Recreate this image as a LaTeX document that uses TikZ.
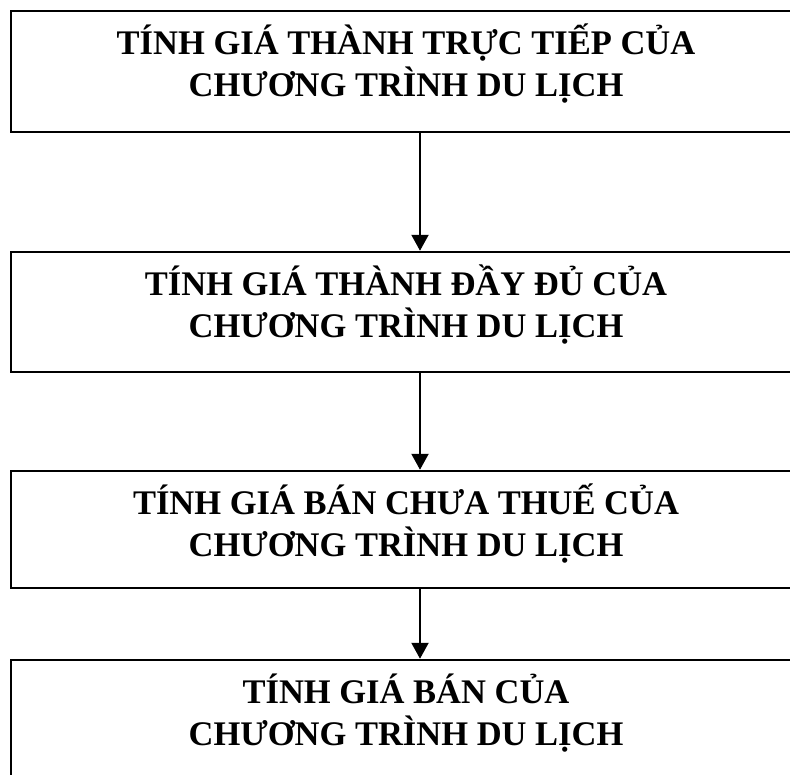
\documentclass[tikz,border=0pt]{standalone}
\usepackage{fontspec}
\setmainfont{Liberation Serif}
\usetikzlibrary{arrows.meta,positioning}

\begin{document}
\begin{tikzpicture}[x=1pt, y=-1pt,
    box/.style={rectangle, draw, line width=2.5pt, minimum width=818pt},
    label/.style={align=center, anchor=base, font=\fontsize{34.5}{42}\selectfont\bfseries},
    flow/.style={line width=2.2pt, -{Triangle[length=16pt, width=17pt]}}]
  \useasboundingbox (0, 0) rectangle (790, 774);
  \clip (0, 0) rectangle (790, 774);
  % Nodes
  \node (direct) [box, minimum height=121pt] at (420, 71.5) {};
  \node (full) [box, minimum height=120pt] at (420, 312) {};
  \node (pretax) [box, minimum height=117pt] at (420, 529.5) {};
  \node (price) [box, minimum height=120pt] at (420, 720) {};
  % Text
  \node (direct-text) [label] at (406, 96) {TÍNH GIÁ THÀNH TRỰC TIẾP CỦA\\CHƯƠNG TRÌNH DU LỊCH};
  \node (full-text) [label] at (406, 337) {TÍNH GIÁ THÀNH ĐẦY ĐỦ CỦA\\CHƯƠNG TRÌNH DU LỊCH};
  \node (pretax-text) [label] at (406, 556) {TÍNH GIÁ BÁN CHƯA THUẾ CỦA\\CHƯƠNG TRÌNH DU LỊCH};
  \node (price-text) [label] at (406, 745) {TÍNH GIÁ BÁN CỦA\\CHƯƠNG TRÌNH DU LỊCH};
  % Arrow
  \draw[flow] (direct) to (full);
  \draw[flow] (full) to (pretax);
  \draw[flow] (pretax) to (price);
\end{tikzpicture}
\end{document}
